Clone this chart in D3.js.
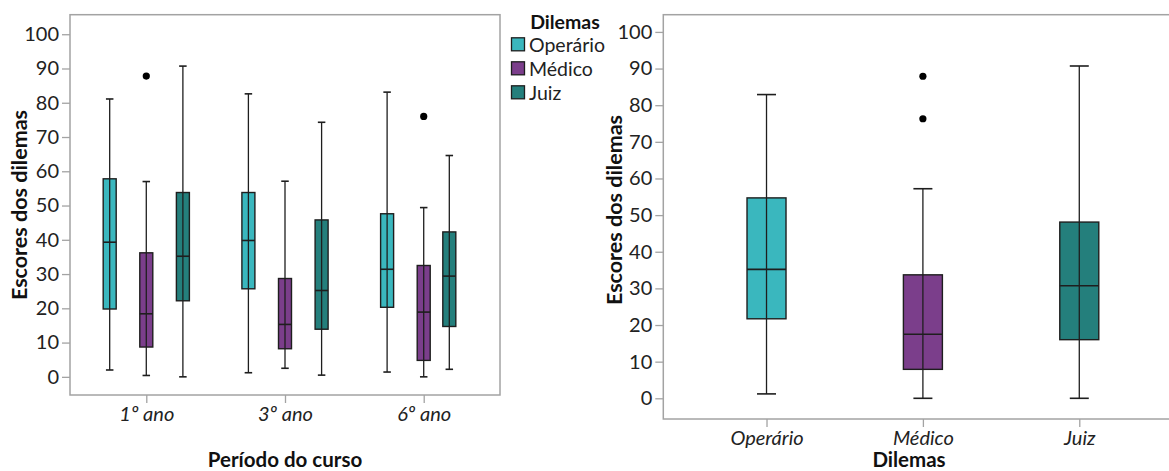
<!DOCTYPE html>
<html>
<head>
<meta charset="utf-8">
<script src="https://cdn.jsdelivr.net/npm/d3@7"></script>
<style>
  body { margin: 0; background: #fff; }
  svg { display: block; font-family: Lato, "DejaVu Sans", sans-serif; }
</style>
</head>
<body>
<svg id="chart" width="1169" height="471"></svg>
<script>
// Data -------------------------------------
var periods = ["1º ano", "3º ano", "6º ano"];
var dilemmas = ["Operário", "Médico", "Juiz"];
var yTicks = [0, 10, 20, 30, 40, 50, 60, 70, 80, 90, 100];

// [lowWhisker, q1, median, q3, highWhisker] per period, per dilemma
var operarioByPeriod = [[2.0, 19.8, 39.3, 57.8, 81.1], [1.2, 25.7, 39.8, 53.8, 82.6], [1.4, 20.3, 31.4, 47.6, 83.1]];
var medicoByPeriod = [[0.4, 8.7, 18.4, 36.2, 57.0], [2.5, 8.2, 15.3, 28.7, 57.1], [0.0, 4.8, 18.9, 32.5, 49.4]];
var juizByPeriod = [[0.0, 22.2, 35.2, 53.8, 90.7], [0.5, 13.9, 25.2, 45.8, 74.3], [2.2, 14.7, 29.4, 42.3, 64.6]];
var medicoOutliersByPeriod = [[87.8], [], [76.0]];

// Overall (right chart)
var overallStats = [[1.2, 21.7, 35.2, 54.7, 82.9], [0.0, 7.9, 17.5, 33.7, 57.2], [0.0, 16.0, 30.7, 48.1, 90.7]];
var overallOutliers = [[], [87.9, 76.3], []];

var colors = ["#3ab7be", "#7b3e8b", "#247f7c"];

// Helpers -------------------------------------
var svg = d3.select("#chart");
var frameColor = "#a3a3a3";
var tickFont = 20;
var titleFont = 20.5;
var color = d3.scaleOrdinal().domain(dilemmas).range(colors);

function drawFrame(g, x0, y0, x1, y1) {
  g.append("rect")
    .attr("x", x0).attr("y", y0)
    .attr("width", x1 - x0).attr("height", y1 - y0)
    .attr("fill", "none")
    .attr("stroke", frameColor)
    .attr("stroke-width", 1.5);
}

function drawYAxis(g, y, x0) {
  var axis = g.append("g")
    .attr("transform", "translate(" + x0 + ",0)")
    .call(d3.axisLeft(y).tickValues(yTicks).tickSize(8).tickPadding(3));
  axis.select(".domain").remove();
  axis.selectAll("line").attr("stroke", frameColor).attr("stroke-width", 1.3);
  axis.selectAll("text").attr("font-size", tickFont).attr("fill", "#222").attr("font-family", "Lato");
}

function drawXAxis(g, x, y0) {
  var axis = g.append("g")
    .attr("transform", "translate(0," + y0 + ")")
    .call(d3.axisBottom(x).tickSize(8).tickPadding(4));
  axis.select(".domain").remove();
  axis.selectAll("line").attr("stroke", frameColor).attr("stroke-width", 1.3);
  axis.selectAll("text")
    .attr("font-size", tickFont).attr("fill", "#222")
    .attr("font-style", "italic").attr("font-family", "Lato");
}

function drawBox(g, cx, s, y, boxW, capW, fill, outliers) {
  var stroke = "#1e1e1e";
  // whisker line
  g.append("line")
    .attr("x1", cx).attr("x2", cx)
    .attr("y1", y(s[0])).attr("y2", y(s[4]))
    .attr("stroke", stroke).attr("stroke-width", 1.3);
  // caps
  [s[0], s[4]].forEach(function(v) {
    g.append("line")
      .attr("x1", cx - capW / 2).attr("x2", cx + capW / 2)
      .attr("y1", y(v)).attr("y2", y(v))
      .attr("stroke", stroke).attr("stroke-width", 1.6);
  });
  // box
  g.append("rect")
    .attr("x", cx - boxW / 2).attr("y", y(s[3]))
    .attr("width", boxW).attr("height", y(s[1]) - y(s[3]))
    .attr("fill", fill)
    .attr("stroke", stroke).attr("stroke-width", 1.4);
  // inner whisker line on top of box
  g.append("line")
    .attr("x1", cx).attr("x2", cx)
    .attr("y1", y(s[3])).attr("y2", y(s[1]))
    .attr("stroke", stroke).attr("stroke-width", 1.3);
  // median
  g.append("line")
    .attr("x1", cx - boxW / 2).attr("x2", cx + boxW / 2)
    .attr("y1", y(s[2])).attr("y2", y(s[2]))
    .attr("stroke", stroke).attr("stroke-width", 1.6);
  // outliers
  (outliers || []).forEach(function(v) {
    g.append("circle")
      .attr("cx", cx).attr("cy", y(v)).attr("r", 3.6)
      .attr("fill", "#000");
  });
}

// Left chart -------------------------------------
var L = { x0: 70, y0: 14.7, x1: 500, y1: 395 };
var left = svg.append("g");
var yL = d3.scaleLinear().domain([-5.3, 105.7]).range([L.y1, L.y0]);
var xL = d3.scalePoint().domain(periods).range([L.x0, L.x1]).padding(0.55);
var dodge = d3.scalePoint().domain(dilemmas).range([-36.6, 36.6]);
// the 6º ano Juiz box sits closer to its neighbour in the original
var nudge = { "6º ano|Juiz": -11 };

drawFrame(left, L.x0, L.y0, L.x1, L.y1);
drawYAxis(left, yL, L.x0);
drawXAxis(left, xL, L.y1);

var seriesByDilemma = [operarioByPeriod, medicoByPeriod, juizByPeriod];
periods.forEach(function(p, pi) {
  dilemmas.forEach(function(d, di) {
    var cx = xL(p) + dodge(d) + (nudge[p + "|" + d] || 0);
    var outs = d === "Médico" ? medicoOutliersByPeriod[pi] : [];
    drawBox(left, cx, seriesByDilemma[di][pi], yL, 13, 7.5, color(d), outs);
  });
});

left.append("text")
  .attr("transform", "translate(19,205) rotate(-90)")
  .attr("text-anchor", "middle").attr("dominant-baseline", "central")
  .attr("font-size", 21.5).attr("font-weight", "bold").attr("fill", "#111")
  .text("Escores dos dilemas");

left.append("text")
  .attr("x", 285).attr("y", 467)
  .attr("text-anchor", "middle")
  .attr("font-size", titleFont).attr("font-weight", "bold").attr("fill", "#111")
  .text("Período do curso");

// Legend -------------------------------------
var legend = svg.append("g");
legend.append("text")
  .attr("x", 565).attr("y", 21)
  .attr("text-anchor", "middle").attr("dominant-baseline", "central")
  .attr("font-size", 19.5).attr("font-weight", "bold").attr("fill", "#111")
  .text("Dilemas");
dilemmas.forEach(function(d, i) {
  var cy = 44.3 + i * 24;
  legend.append("rect")
    .attr("x", 511.5).attr("y", cy - 6.5)
    .attr("width", 13).attr("height", 13)
    .attr("fill", color(d)).attr("stroke", "#1e1e1e").attr("stroke-width", 1.3);
  legend.append("text")
    .attr("x", 529).attr("y", cy)
    .attr("dominant-baseline", "central")
    .attr("font-size", 19.5).attr("fill", "#222")
    .text(d);
});

// Right chart -------------------------------------
var R = { x0: 663.3, y0: 14.7, x1: 1182.5, y1: 419 };
var right = svg.append("g");
var yR = d3.scaleLinear().domain([-5.65, 104.7]).range([R.y1, R.y0]);
var xR = d3.scalePoint().domain(dilemmas).range([R.x0, R.x1]).padding(0.66);

drawFrame(right, R.x0, R.y0, R.x1, R.y1);
drawYAxis(right, yR, R.x0);
drawXAxis(right, xR, R.y1);

dilemmas.forEach(function(d, i) {
  drawBox(right, xR(d), overallStats[i], yR, 39, 19, color(d), overallOutliers[i]);
});

right.append("text")
  .attr("transform", "translate(614,210) rotate(-90)")
  .attr("text-anchor", "middle").attr("dominant-baseline", "central")
  .attr("font-size", 21.5).attr("font-weight", "bold").attr("fill", "#111")
  .text("Escores dos dilemas");

right.append("text")
  .attr("x", 909).attr("y", 467)
  .attr("text-anchor", "middle")
  .attr("font-size", titleFont).attr("font-weight", "bold").attr("fill", "#111")
  .text("Dilemas");
</script>
</body>
</html>
